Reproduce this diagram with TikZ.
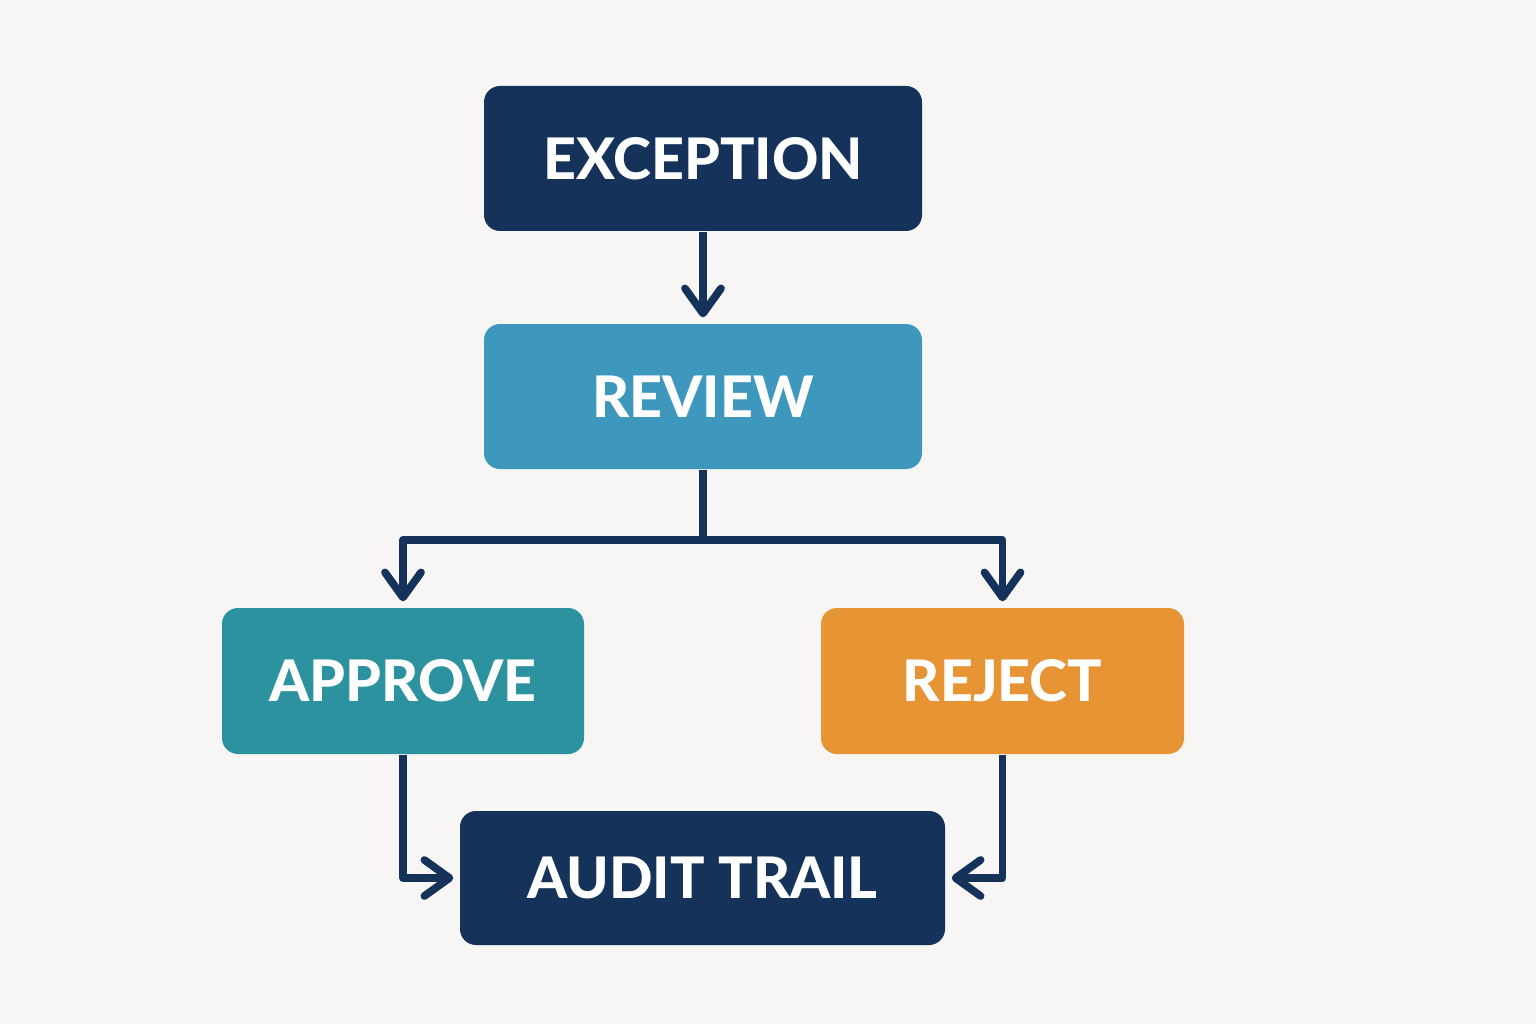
\documentclass[tikz,border=0pt]{standalone}
\usepackage{fontspec}
\setmainfont{Lato}[BoldFont={Lato Heavy}]
\usepackage{tikz}
\usetikzlibrary{positioning, arrows.meta}

\definecolor{bgcol}{HTML}{F7F6F4}
\definecolor{navy}{HTML}{14325A}
\definecolor{reviewblue}{HTML}{3E98BE}
\definecolor{approveteal}{HTML}{2D92A0}
\definecolor{rejectorange}{HTML}{E69434}

\begin{document}
\begin{tikzpicture}[>={Straight Barb[length=2.5mm, width=3.6mm, line cap=round, line join=round]},
    box/.style={rounded corners=0.16cm, text=white, font=\fontsize{16.3}{20}\selectfont\bfseries, align=center, inner sep=0pt},
    wire/.style={draw=navy, line width=2.2pt, line join=round},
    flow/.style={wire, ->, shorten >=0.06cm}] % global styles

    % background
    \fill[bgcol] (0,0) rectangle (15.36,10.24);
    \useasboundingbox (0,0) rectangle (15.36,10.24);

    % 1. Boxes
    \node[box, fill=navy, minimum width=4.38cm, minimum height=1.45cm] (exc) at (7.03, 8.655) {EXCEPTION};
    \node[box, fill=reviewblue, minimum width=4.38cm, minimum height=1.45cm] (rev) at (7.03, 6.275) {REVIEW};
    \node[box, fill=approveteal, minimum width=3.62cm, minimum height=1.46cm] (appr) at (4.03, 3.43) {APPROVE};
    \node[box, fill=rejectorange, minimum width=3.63cm, minimum height=1.46cm] (rej) at (10.025, 3.43) {REJECT};
    \node[box, fill=navy, minimum width=4.85cm, minimum height=1.34cm] (audit) at (7.025, 1.46) {AUDIT TRAIL};

    % 2. Exception -> Review
    \draw[flow] (exc) -- (rev);

    % 3. Review splits to Approve and Reject
    \coordinate (split) at (7.03, 4.84);
    \draw[wire] (rev.south) -- (split);
    \draw[flow] (split) -| (appr.north);
    \draw[flow] (split) -| (rej.north);

    % 4. Both outcomes go to the audit trail
    \draw[flow] (appr.south) |- (audit.west);
    \draw[flow] (rej.south) |- (audit.east);
\end{tikzpicture}
\end{document}
